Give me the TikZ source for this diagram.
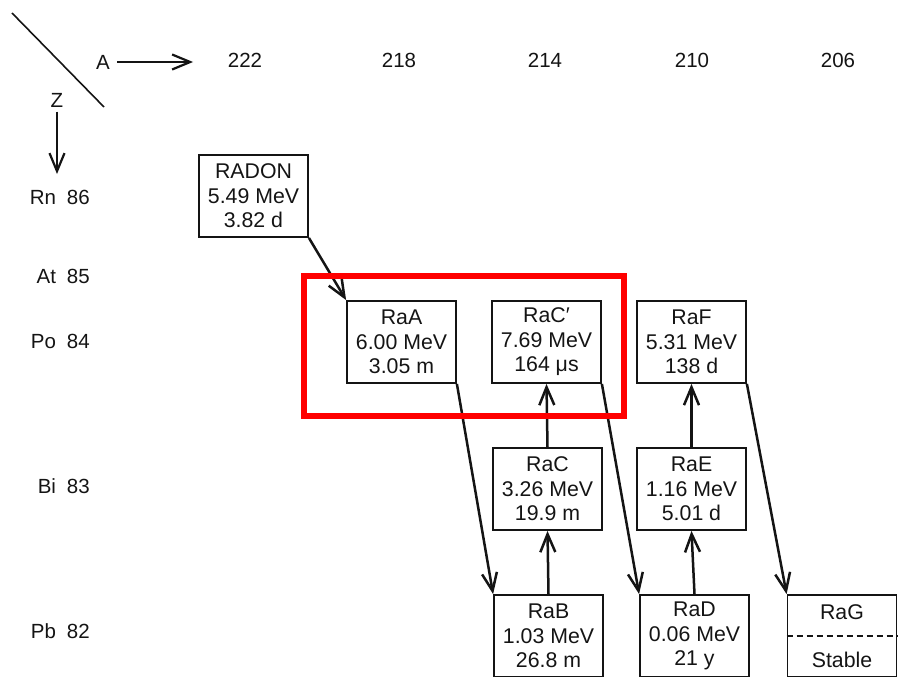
\documentclass[tikz,border=0pt]{standalone}
\usepackage{fontspec}
\setmainfont{Liberation Sans}
\usepackage{xcolor}
\usepackage{tikz}
\usetikzlibrary{arrows.meta,calc}
\definecolor{inkmain}{HTML}{141414}
\definecolor{markred}{HTML}{FF0000}
\tikzset{every node/.append style={font=\rmfamily\fontsize{20.5}{24.5}\selectfont,text=inkmain}}
\tikzset{decay/.style={draw=inkmain,line width=1.8pt,minimum width=109pt,minimum height=82pt,inner sep=0pt,align=center,font=\rmfamily\fontsize{21.3}{24.5}\selectfont}}

\begin{document}
\begin{tikzpicture}[>={Straight Barb[length=18pt,width=15pt]},x=1pt,y=-1pt]
\useasboundingbox (0,0) rectangle (898,677);
% mass number and charge axes
\draw[inkmain,line width=1.6pt] (12,13)--(104,107);
\node (A) at (103,62) {A}; \node (Z) at (57,100) {Z};
\coordinate (Aend) at (193,62); \coordinate (Zend) at (57,174);
\draw[->,inkmain,line width=2.2pt,shorten <=4pt] (A)--(Aend);
\draw[->,inkmain,line width=2.2pt,shorten <=1pt] (Z)--(Zend);
\foreach \a/\x in {222/245,218/399,214/545,210/692,206/838}
  \node (m\a) at (\x,60) {\a};
\foreach \el/\z/\y in {Rn/86/197,At/85/276,Po/84/341,Bi/83/486,Pb/82/631}
  \node[anchor=east,inner sep=0pt] (z\z) at (90,\y) {\el\hspace{11pt}\z};
% the chain
\node[decay] (Rn) at (253.5,196) {RADON\\5.49 MeV\\3.82 d};
\node[decay] (RaA) at (401.5,342) {RaA\\6.00 MeV\\3.05 m};
\node[decay] (RaCp) at (546.5,342) {RaC′\\7.69 MeV\\164 μs};
\node[decay] (RaF) at (691.5,342) {RaF\\5.31 MeV\\138 d};
\node[decay] (RaC) at (547.5,489) {RaC\\3.26 MeV\\19.9 m};
\node[decay] (RaE) at (691.5,489) {RaE\\1.16 MeV\\5.01 d};
\node[decay] (RaB) at (548.5,636) {RaB\\1.03 MeV\\26.8 m};
\node[decay] (RaD) at (694.5,636) {RaD\\0.06 MeV\\21 y};
\node[decay] (RaG) at (842,636) {RaG\\[23.5pt]Stable};
\draw[inkmain,line width=1.4pt,dash pattern=on 6pt off 4pt] (RaG.west)--(RaG.east);
\draw[->,inkmain,line width=2.5pt] (Rn.south east)--(RaA.north west);
\draw[->,inkmain,line width=2.5pt] (RaA.south east)--(RaB.north west);
\draw[->,inkmain,line width=2.5pt] (RaB.north)--(RaC.south);
\draw[->,inkmain,line width=2.5pt] (RaC.north)--(RaCp.south);
\draw[->,inkmain,line width=2.5pt] (RaCp.south east)--(RaD.north west);
\draw[->,inkmain,line width=2.5pt] (RaD.north)--(RaE.south);
\draw[->,inkmain,line width=2.5pt] (RaE.north)--(RaF.south);
\draw[->,inkmain,line width=2.5pt] (RaF.south east)--(RaG.north west);
% highlight
\draw[markred,line width=5.5pt] (304,276) rectangle (624,416);
\end{tikzpicture}
\end{document}
